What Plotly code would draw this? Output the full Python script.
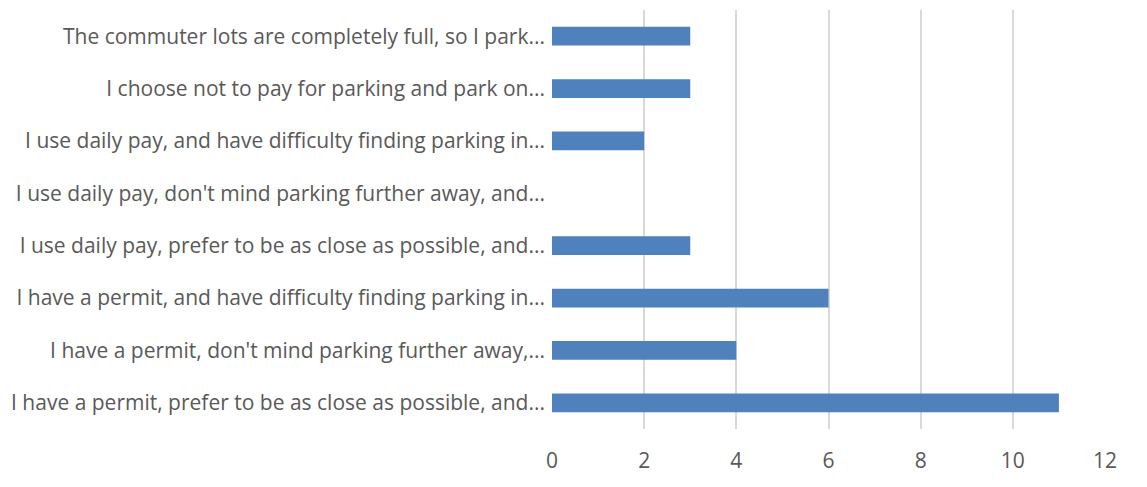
import plotly.graph_objects as go

# Survey responses, listed bottom to top as drawn on the category axis
categories = [
    "I have a permit, prefer to be as close as possible, and...",
    "I have a permit, don't mind parking further away,...",
    "I have a permit, and have difficulty finding parking in...",
    "I use daily pay, prefer to be as close as possible, and...",
    "I use daily pay, don't mind parking further away, and...",
    "I use daily pay, and have difficulty finding parking in...",
    "I choose not to pay for parking and park on...",
    "The commuter lots are completely full, so I park...",
]
counts = [11, 4, 6, 3, 0, 2, 3, 3]
x_ticks = [0, 2, 4, 6, 8, 10, 12]

font_family = "'Open Sans', sans-serif"
text_color = "#595959"

fig = go.Figure(
    go.Bar(
        y=categories,
        x=counts,
        orientation="h",
        marker=dict(color="#4F81BD", line=dict(width=0)),
        hoverinfo="x+y",
    )
)

fig.update_layout(
    width=1147,
    height=487,
    margin=dict(l=552, r=42, t=10, b=58),
    paper_bgcolor="white",
    plot_bgcolor="white",
    bargap=0.64,
    showlegend=False,
    font=dict(family=font_family, size=21, color=text_color),
)

fig.update_xaxes(
    range=[0, 12],
    tickvals=x_ticks,
    showgrid=True,
    gridcolor="#D9D9D9",
    gridwidth=1.5,
    zeroline=False,
    showline=False,
    ticks="",
    ticklabelstandoff=17,
    tickfont=dict(size=21, color=text_color),
)

fig.update_yaxes(
    categoryorder="array",
    categoryarray=categories,
    showgrid=False,
    zeroline=False,
    showline=False,
    ticks="",
    ticklabelstandoff=6,
    tickfont=dict(size=21, color=text_color),
    automargin=False,
)

fig.write_html("out.html")
